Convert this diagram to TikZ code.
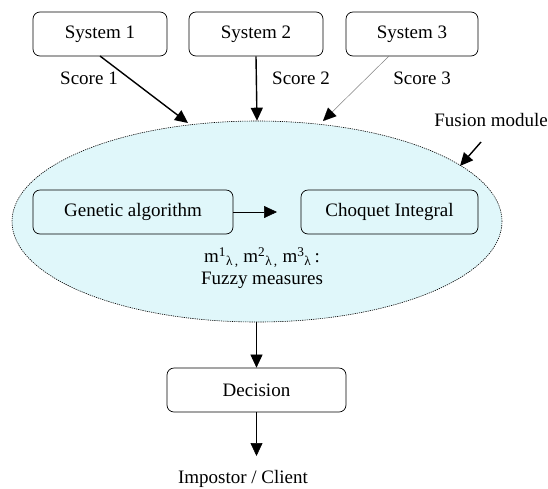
\documentclass[tikz,border=0pt]{standalone}
\usepackage{fontspec}
\setmainfont{Liberation Serif}
\usetikzlibrary{arrows.meta,shapes.geometric,calc}
\definecolor{fuscyan}{RGB}{224,247,250}
\tikzset{
  box/.style={draw, rounded corners=7pt, line width=0.7pt, inner sep=0pt},
  lbl/.style={inner sep=0pt, font=\fontsize{19}{22}\selectfont},
  arr/.style={-{Triangle[length=13pt,width=12pt]}, line width=0.6pt},
  thickarr/.style={-{Triangle[length=13pt,width=12pt]}, line width=1.4pt},
}
\begin{document}
\begin{tikzpicture}[x=1pt,y=-1pt]
\useasboundingbox (0,0) rectangle (548,488);
% fusion ellipse
\node[ellipse, draw, dash pattern=on 1.2pt off 1pt, fill=fuscyan, minimum width=490pt, minimum height=201pt, inner sep=0pt, line width=0.6pt] (fus) at (257,221.5) {};
% systems
\node[box, minimum width=134pt, minimum height=44pt, lbl] (s1) at (100,34) {System 1};
\node[box, minimum width=134pt, minimum height=44pt, lbl] (s2) at (256,34) {System 2};
\node[box, minimum width=132pt, minimum height=44pt, lbl] (s3) at (412,34) {System 3};
\node[lbl] (sc1) at (89,78) {Score 1};
\node[lbl] (sc2) at (301,78) {Score 2};
\node[lbl] (sc3) at (422,78) {Score 3};
\coordinate (t1) at (188,123);
\coordinate (t3) at (323,121);
\coordinate (f1) at (100,56);
\coordinate (f3) at (389,56);
\draw[thickarr] (f1) -- (t1);
\draw[thickarr] (s2.south) -- (fus.north);
\draw[line width=0.5pt, draw=gray] (f3) -- ($(t3)!12pt!(f3)$);
\draw[-{Triangle[length=13pt,width=12pt]}, line width=0.01pt] ($(t3)!13pt!(f3)$) -- (t3);
% fusion label
\node[lbl, anchor=east] (fl) at (548,120) {Fusion module};
\coordinate (fa) at (481,142);
\coordinate (fb) at (460,166);
\draw[thickarr] (fa) -- (fb);
% inner boxes
\node[box, minimum width=200pt, minimum height=44pt, lbl] (ga) at (133,212) {Genetic algorithm};
\node[box, minimum width=177pt, minimum height=44pt, lbl] (ci) at (389.5,212) {Choquet Integral};
\coordinate (gaend) at (277,212);
\draw[arr] (ga.east) -- (gaend);
\node[lbl, align=center] (fm) at (262,268) {m\textsuperscript{1}\textsubscript{λ\,,} m\textsuperscript{2}\textsubscript{λ\,,} m\textsuperscript{3}\textsubscript{λ}\,:\\[0pt]Fuzzy measures};
% decision
\node[box, minimum width=179pt, minimum height=44pt, lbl] (dec) at (256.5,390) {Decision};
\draw[arr] (fus.south -| dec.north) -- (dec.north);
\coordinate (out) at (256.5,456);
\draw[arr] (dec.south) -- (out);
\node[lbl] (ic) at (243,479) {Impostor / Client};
\end{tikzpicture}
\end{document}
